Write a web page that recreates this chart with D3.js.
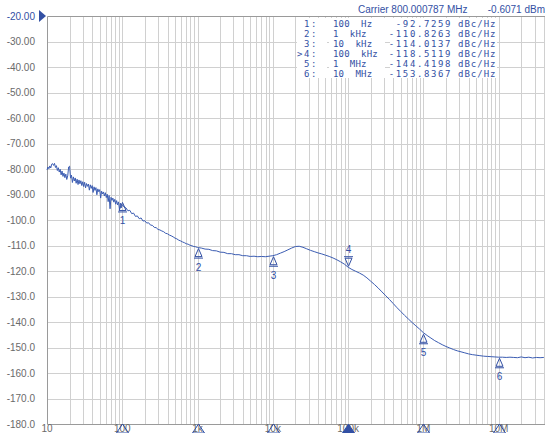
<!DOCTYPE html>
<html>
<head>
<meta charset="utf-8">
<script src="https://cdn.jsdelivr.net/npm/d3@7"></script>
<style>
  html, body { margin: 0; padding: 0; background: #fff; }
  svg { display: block; }
  text { white-space: pre; }
</style>
</head>
<body>
<svg id="chart" width="545" height="433"></svg>
<script>
// Phase-noise trace: offset frequency (Hz) and level (dBc/Hz)
const traceFreq = [
  10.00, 10.29, 10.59, 10.90, 11.22, 11.55, 11.89, 12.23, 12.59, 12.96,
  13.34, 13.73, 14.13, 14.54, 14.96, 15.40, 15.85, 16.31, 16.79, 17.28,
  17.78, 18.30, 18.84, 19.39, 19.95, 20.54, 21.13, 21.75, 22.39, 23.04,
  23.71, 24.40, 25.12, 25.85, 26.61, 27.38, 28.18, 29.01, 29.85, 30.72,
  31.62, 32.55, 33.50, 34.47, 35.48, 36.52, 37.58, 38.68, 39.81, 40.97,
  42.17, 43.40, 44.67, 45.97, 47.32, 48.70, 50.12, 51.58, 53.09, 54.64,
  56.23, 57.88, 59.57, 61.31, 63.10, 64.94, 66.83, 68.79, 70.79, 72.86,
  74.99, 77.18, 79.43, 81.75, 84.14, 86.60, 89.13, 91.73, 94.41, 97.16,
  100, 105.9, 112.2, 118.9, 125.9, 133.4, 141.3, 149.6, 158.5, 167.9,
  177.8, 188.4, 199.5, 211.3, 223.9, 237.1, 251.2, 266.1, 281.8, 298.5,
  316.2, 335, 354.8, 375.8, 398.1, 421.7, 446.7, 473.2, 501.2, 530.9,
  562.3, 595.7, 631, 668.3, 707.9, 749.9, 794.3, 841.4, 891.3, 944.1,
  1000, 1122, 1259, 1413, 1585, 1778, 1995, 2239, 2512, 2818,
  3162, 3548, 3981, 4467, 5012, 5623, 6310, 7079, 7943, 8913,
  10000, 11220, 12590, 14130, 15850, 17780, 19950, 22390, 25120, 28180,
  31620, 35480, 39810, 44670, 50120, 56230, 63100, 70790, 79430, 89130,
  100000, 112200, 125900, 141300, 158500, 177800, 199500, 223900, 251200, 281800,
  316200, 354800, 398100, 446700, 501200, 562300, 631000, 707900, 794300, 891300,
  1000000, 1122000, 1259000, 1413000, 1585000, 1778000, 1995000, 2239000, 2512000, 2818000,
  3162000, 3548000, 3981000, 4467000, 5012000, 5623000, 6310000, 7079000, 7943000, 8913000,
  10000000, 11220000, 12590000, 14130000, 15850000, 17780000, 19950000, 22390000, 25120000, 28180000,
  31620000, 35480000, 39810000
];
const traceDb = [
  -80.4, -79.2, -79.9, -78.8, -79.6, -78.1, -77.9, -78.6, -77.8, -79.4,
  -78.7, -80.6, -79.5, -81.2, -80.1, -82.3, -80.8, -82.9, -81.6, -83.4,
  -82.0, -84.1, -82.7, -79.2, -78.9, -83.6, -82.4, -85.3, -83.1, -84.7,
  -83.5, -85.6, -84.0, -86.1, -84.3, -85.8, -84.6, -86.5, -85.0, -86.9,
  -85.2, -87.4, -85.7, -86.8, -85.9, -88.3, -86.2, -87.6, -86.5, -89.2,
  -87.0, -88.4, -87.3, -90.1, -87.8, -88.9, -88.1, -91.4, -88.7, -89.8,
  -89.0, -90.6, -89.3, -91.2, -89.9, -92.8, -90.4, -95.6, -91.1, -92.3,
  -91.4, -93.0, -91.9, -93.8, -92.4, -94.1, -92.9, -95.9, -93.4, -95.2,
  -94.0, -94.9, -95.3, -96.4, -96.2, -97.5, -97.3, -98.6, -98.4, -99.5,
  -99.2, -100.4, -100.3, -101.2, -101.1, -102.0, -102.1, -102.9, -103.0, -103.7,
  -103.9, -104.3, -104.6, -105.2, -105.4, -105.9, -106.2, -106.6, -107.1, -107.4,
  -107.9, -108.2, -108.6, -108.9, -109.3, -109.5, -109.9, -110.1, -110.4, -110.5,
  -110.8, -111.0, -111.4, -111.5, -112.0, -112.1, -112.6, -112.7, -113.2, -113.2,
  -113.6, -113.6, -114.0, -114.0, -114.3, -114.2, -114.4, -114.3, -114.4, -114.2,
  -114.0, -113.6, -113.0, -112.4, -111.7, -111.0, -110.4, -110.3, -110.7, -111.3,
  -111.9, -112.4, -112.9, -113.3, -113.8, -114.3, -114.9, -115.6, -116.4, -117.3,
  -118.5, -119.4, -120.1, -120.8, -121.6, -122.7, -124.0, -125.3, -126.7, -128.2,
  -129.7, -131.2, -132.8, -134.4, -135.9, -137.4, -138.8, -140.2, -141.5, -142.8,
  -144.2, -145.3, -146.3, -147.3, -148.1, -148.9, -149.6, -150.2, -150.8, -151.3,
  -151.7, -152.1, -152.5, -152.8, -153.0, -153.2, -153.4, -153.5, -153.6, -153.7,
  -153.8, -153.8, -153.9, -153.8, -153.9, -154.0, -153.7, -154.0, -153.8, -154.1,
  -153.9, -154.0, -153.9
];

// Markers
const markerIds = ["1:", "2:", "3:", ">4:", "5:", "6:"];
const markerNames = ["1", "2", "3", "4", "5", "6"];
const markerFreq = [100, 1000, 10000, 100000, 1000000, 10000000];
const markerFreqText = ["100  Hz", "1  kHz", "10  kHz", "100  kHz", "1  MHz", "10  MHz"];
const markerDb = [-92.7259, -110.8263, -114.0137, -118.5119, -144.4198, -153.8367];
const activeMarker = 3;

// Axes
const xTickValues = [10, 100, 1000, 10000, 100000, 1000000, 10000000];
const xTickLabels = ["10", "100", "1k", "10k", "100k", "1M", "10M"];
const yTickValues = [-20, -30, -40, -50, -60, -70, -80, -90, -100, -110, -120, -130, -140, -150, -160, -170, -180];
const yTickLabels = ["-20.00", "-30.00", "-40.00", "-50.00", "-60.00", "-70.00", "-80.00", "-90.00",
  "-100.0", "-110.0", "-120.0", "-130.0", "-140.0", "-150.0", "-160.0", "-170.0", "-180.0"];

const carrierText = "Carrier 800.000787 MHz";
const powerText = "-0.6071 dBm";

const BLUE = "#3350a4";
const TRACE = "#3b5cb2";
const GRID = "#d0d0d0";
const FRAME = "#9a9a9a";
const LABEL = "#6a6a6a";

const svg = d3.select("#chart");
const plotLeft = 47, plotRight = 544, plotTop = 16, plotBottom = 424;

const x = d3.scaleLog().domain([10, 4e7]).range([plotLeft, plotRight]);
const y = d3.scaleLinear().domain([-180, -20]).range([plotBottom, plotTop]);
const px = v => Math.round(v) + 0.5;

// Grid: vertical lines at every 1..9 step of each decade
const gridFreqs = [];
for (let d = 10; d < 4e7; d *= 10) {
  for (let m = 1; m <= 9; m++) {
    const f = d * m;
    if (f > 10 && f <= 4e7) gridFreqs.push(f);
  }
}
const grid = svg.append("g");
grid.selectAll("line.v").data(gridFreqs).join("line")
  .attr("x1", d => px(x(d))).attr("x2", d => px(x(d)))
  .attr("y1", plotTop).attr("y2", plotBottom)
  .attr("stroke", GRID).attr("stroke-width", 1);
grid.selectAll("line.h").data(yTickValues.slice(1, -1)).join("line")
  .attr("x1", plotLeft).attr("x2", 545)
  .attr("y1", d => px(y(d))).attr("y2", d => px(y(d)))
  .attr("stroke", GRID).attr("stroke-width", 1);

// Frame: top, left and bottom edges
svg.append("path")
  .attr("d", `M545,${px(plotTop)}H${px(plotLeft)}V${px(plotBottom)}H545`)
  .attr("fill", "none").attr("stroke", FRAME).attr("stroke-width", 1);

// Y labels
svg.append("g").selectAll("text").data(yTickValues).join("text")
  .attr("x", 35).attr("y", d => y(d) + 3.5)
  .attr("text-anchor", "end")
  .attr("font-family", "Liberation Sans, Arial, sans-serif").attr("font-size", 10)
  .attr("fill", (d, i) => i === 0 ? BLUE : LABEL)
  .text((d, i) => yTickLabels[i]);

// Reference-level pointer
svg.append("path")
  .attr("d", `M39,${y(-20) - 6}L46,${y(-20)}L39,${y(-20) + 6}Z`)
  .attr("fill", BLUE);

// X labels
svg.append("g").selectAll("text").data(xTickValues).join("text")
  .attr("x", d => x(d)).attr("y", 432)
  .attr("text-anchor", "middle")
  .attr("font-family", "Liberation Sans, Arial, sans-serif").attr("font-size", 10)
  .attr("fill", LABEL)
  .text((d, i) => xTickLabels[i]);

// Trace
const line = d3.line().x(d => x(d[0])).y(d => y(d[1]));
svg.append("path")
  .datum(traceFreq.map((f, i) => [f, traceDb[i]]))
  .attr("d", line)
  .attr("fill", "none").attr("stroke", TRACE).attr("stroke-width", 1)
  .attr("stroke-linejoin", "round");

// Markers on the trace
const mk = svg.append("g");
markerFreq.forEach((f, i) => {
  const mx = Math.round(x(f)) + 0.5, my = y(markerDb[i]);
  const up = i !== activeMarker;
  const g = mk.append("g");
  if (up) {
    g.append("path")
      .attr("d", `M${mx},${my + 1}L${mx + 3.5},${my + 9}L${mx - 3.5},${my + 9}Z M${mx - 4.5},${my + 10.5}H${mx + 4.5}`)
      .attr("fill", "none").attr("stroke", BLUE).attr("stroke-width", 1);
    g.append("text").attr("x", mx).attr("y", my + 23)
      .attr("text-anchor", "middle")
      .attr("font-family", "Liberation Sans, Arial, sans-serif").attr("font-size", 10)
      .attr("fill", BLUE).text(markerNames[i]);
  } else {
    g.append("path")
      .attr("d", `M${mx},${my - 1}L${mx + 3.5},${my - 9}L${mx - 3.5},${my - 9}Z M${mx - 4.5},${my - 10.5}H${mx + 4.5}`)
      .attr("fill", "none").attr("stroke", BLUE).attr("stroke-width", 1);
    g.append("text").attr("x", mx).attr("y", my - 14)
      .attr("text-anchor", "middle")
      .attr("font-family", "Liberation Sans, Arial, sans-serif").attr("font-size", 10)
      .attr("fill", BLUE).text(markerNames[i]);
  }
  // Marker position flag on the frequency axis
  const bx = Math.round(x(f)) + 0.5;
  mk.append("path")
    .attr("d", `M${bx},${plotBottom}L${bx + 6},${433}L${bx - 6},${433}Z`)
    .attr("fill", i === activeMarker ? BLUE : "none")
    .attr("stroke", BLUE).attr("stroke-width", 1);
});

// Carrier readout
svg.append("text").attr("x", 358).attr("y", 13)
  .attr("font-family", "Liberation Sans, Arial, sans-serif").attr("font-size", 10)
  .attr("fill", BLUE).text(carrierText);
svg.append("text").attr("x", 545).attr("y", 13).attr("text-anchor", "end")
  .attr("font-family", "Liberation Sans, Arial, sans-serif").attr("font-size", 10)
  .attr("fill", BLUE).text(powerText);

// Marker table
const tbl = svg.append("g");
[[297, 327], [329, 385], [390, 497]].forEach(c => {
  tbl.append("rect").attr("x", c[0]).attr("y", 18).attr("width", c[1] - c[0]).attr("height", 60)
    .attr("fill", "#fff");
});
const mono = "DejaVu Sans Mono, monospace";
markerIds.forEach((id, i) => {
  const ty = 27 + i * 10;
  tbl.append("text").attr("x", 318).attr("y", ty).attr("text-anchor", "end")
    .attr("font-family", mono).attr("font-size", 9).attr("letter-spacing", 1.6)
    .attr("fill", BLUE).text(id);
  tbl.append("text").attr("x", 333).attr("y", ty)
    .attr("font-family", mono).attr("font-size", 9).attr("letter-spacing", 0.2)
    .attr("fill", BLUE).text(markerFreqText[i]);
  tbl.append("text").attr("x", 452).attr("y", ty).attr("text-anchor", "end")
    .attr("font-family", mono).attr("font-size", 9).attr("letter-spacing", 1.6)
    .attr("fill", BLUE).text(markerDb[i].toFixed(4));
  tbl.append("text").attr("x", 458).attr("y", ty)
    .attr("font-family", mono).attr("font-size", 9).attr("letter-spacing", 1.0)
    .attr("fill", BLUE).text("dBc/Hz");
});
</script>
</body>
</html>
